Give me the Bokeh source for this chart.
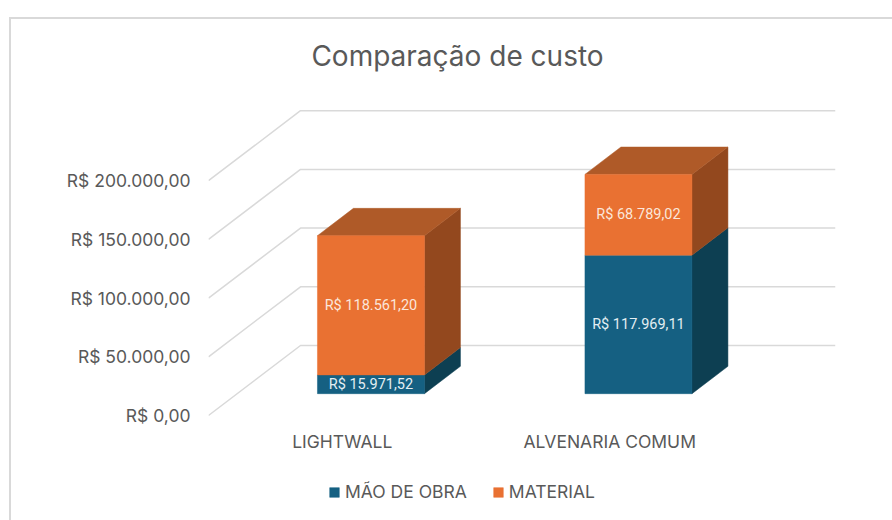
from bokeh.plotting import figure
from bokeh.models import (Range1d, FixedTicker, LinearAxis, Legend, LegendItem, Label)
from bokeh.core.properties import value
from bokeh.embed import file_html
from bokeh.resources import INLINE

categories = ["LIGHTWALL", "ALVENARIA COMUM"]
mao_de_obra = [15971.52, 117969.11]
material = [118561.20, 68789.02]
series_names = ["MÃO DE OBRA", "MATERIAL"]
mao_labels = ["R$ 15.971,52", "R$ 117.969,11"]
material_labels = ["R$ 118.561,20", "R$ 68.789,02"]
y_ticks = [0, 50000, 100000, 150000, 200000]
y_tick_labels = ["R$ 0,00", "R$ 50.000,00", "R$ 100.000,00", "R$ 150.000,00", "R$ 200.000,00"]

TEXT = "#595959"
GRID = "#D9D9D9"
BLUE, BLUE_SIDE = "#156082", "#0D3F52"
ORANGE, ORANGE_SIDE, ORANGE_TOP = "#E97132", "#93481E", "#AF5A28"
UI = "Inter"

# oblique projection: one category = 267.5 px, 50 000 = 58.7 px
DEPTH_X = 92 / 267.5
DEPTH_Y = 70 / 0.001174
D0, D1 = 0.312, 0.703
BAR_W = 0.40

p = figure(width=883, height=503, frame_width=627, frame_height=491, margin=(17, 0, 0, 9),
           output_backend="svg", toolbar_location=None,
           x_range=Range1d(0, 2 + DEPTH_X), y_range=Range1d(-95 / 0.001174, 396 / 0.001174),
           min_border_left=197, min_border_right=59, min_border_top=0, min_border_bottom=10,
           x_axis_type=None, y_axis_type=None, background_fill_color="white",
           border_fill_color="white",
           styles={"border-left": f"2px solid {GRID}", "border-top": f"2px solid {GRID}"})
p.outline_line_color = None
p.xgrid.visible = False
p.ygrid.visible = False


def proj(x, v, d):
    return x + d * DEPTH_X, v + d * DEPTH_Y


# gridlines: side wall then back wall
gx, gy = [], []
for t in y_ticks:
    a = proj(0, t, 0)
    b = proj(0, t, 1)
    c = proj(2, t, 1)
    gx.append([a[0], b[0], c[0]])
    gy.append([a[1], b[1], c[1]])
p.multi_line(gx, gy, line_color=GRID, line_width=1.5)

left = LinearAxis(ticker=FixedTicker(ticks=y_ticks),
                  major_label_overrides=dict(zip(y_ticks, y_tick_labels)))
left.axis_line_color = None
left.major_tick_line_color = None
left.minor_tick_line_color = None
left.major_label_standoff = 12
left.major_label_text_color = TEXT
left.major_label_text_font = UI
left.major_label_text_font_size = "17.5px"
p.add_layout(left, "left")

centers = [0.5, 1.5]
bottom = LinearAxis(ticker=FixedTicker(ticks=centers), fixed_location=0,
                    major_label_overrides=dict(zip(centers, categories)))
bottom.axis_line_color = None
bottom.major_tick_line_color = None
bottom.minor_tick_line_color = None
bottom.major_label_standoff = 9
bottom.major_label_text_color = TEXT
bottom.major_label_text_font = UI
bottom.major_label_text_font_size = "17.5px"
p.add_layout(bottom, "below")

fx, fb0, ft0, fb1, ft1 = [], [], [], [], []
for i, c in enumerate(centers):
    lo, hi = c - BAR_W / 2, c + BAR_W / 2
    base = D0 * DEPTH_Y
    v0, v1 = mao_de_obra[i], mao_de_obra[i] + material[i]
    # side faces
    for a, b, col in [(0, v0, BLUE_SIDE), (v0, v1, ORANGE_SIDE)]:
        p.patch([proj(hi, a, D0)[0], proj(hi, a, D1)[0], proj(hi, b, D1)[0], proj(hi, b, D0)[0]],
                [proj(hi, a, D0)[1], proj(hi, a, D1)[1], proj(hi, b, D1)[1], proj(hi, b, D0)[1]],
                fill_color=col, line_color=col, line_width=0.5)
    # top face
    p.patch([proj(lo, v1, D0)[0], proj(hi, v1, D0)[0], proj(hi, v1, D1)[0], proj(lo, v1, D1)[0]],
            [proj(lo, v1, D0)[1], proj(hi, v1, D0)[1], proj(hi, v1, D1)[1], proj(lo, v1, D1)[1]],
            fill_color=ORANGE_TOP, line_color=ORANGE_TOP, line_width=0.5)
    fx.append(proj(c, 0, D0)[0])
    fb0.append(base)
    ft0.append(base + v0)
    fb1.append(base + v0)
    ft1.append(base + v1)

r_blue = p.vbar(x=fx, width=BAR_W, bottom=fb0, top=ft0, fill_color=BLUE, line_color=BLUE, line_width=0.5)
r_orange = p.vbar(x=fx, width=BAR_W, bottom=fb1, top=ft1, fill_color=ORANGE, line_color=ORANGE, line_width=0.5)

LABEL_FONT = value("Roboto")
p.text(fx, [(a + b) / 2 for a, b in zip(fb0, ft0)], text=mao_labels, text_align="center",
       text_baseline="middle", text_font=LABEL_FONT, text_font_size="14.5px", text_color="#E3EEF2")
p.text(fx, [(a + b) / 2 for a, b in zip(fb1, ft1)], text=material_labels, text_align="center",
       text_baseline="middle", text_font=LABEL_FONT, text_font_size="14.5px", text_color="#FBE6DA")

legend = Legend(items=[LegendItem(label=series_names[0], renderers=[r_blue]),
                       LegendItem(label=series_names[1], renderers=[r_orange])],
                orientation="horizontal", location=(120, 8), background_fill_alpha=0,
                border_line_color=None, glyph_width=12, glyph_height=12, spacing=25,
                label_standoff=5, label_text_color=TEXT, label_text_font=UI,
                label_text_font_size="17.5px", padding=0, margin=0)
p.add_layout(legend, "center")

p.add_layout(Label(x=249, y=455, x_units="screen", y_units="screen", text="Comparação de custo",
                   text_align="center", text_baseline="middle", text_font=UI,
                   text_font_size="28px", text_color=TEXT))

open("out.html", "w").write(file_html(p, INLINE))
